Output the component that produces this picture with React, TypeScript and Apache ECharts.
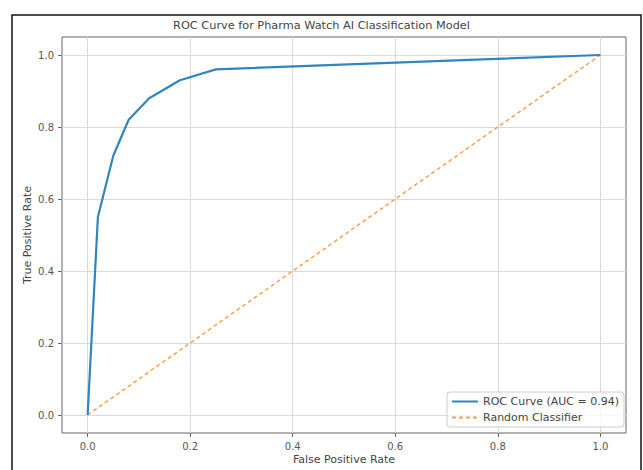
import React, { useEffect, useRef } from "react";
import * as echarts from "echarts";

const fpr = [0, 0.02, 0.05, 0.08, 0.12, 0.18, 0.25, 1.0];
const tpr = [0, 0.55, 0.72, 0.82, 0.88, 0.93, 0.96, 1.0];
const randomX = [0, 1];
const randomY = [0, 1];
const tickValues = [0, 0.2, 0.4, 0.6, 0.8, 1.0];
const titleText = "ROC Curve for Pharma Watch AI Classification Model";
const rocName = "ROC Curve (AUC = 0.94)";
const randName = "Random Classifier";

const FONT = "'DejaVu Sans', sans-serif";
const BLUE = "#3284c0";
const ORANGE = "#f8a04c";

export default function App() {
  const ref = useRef<HTMLDivElement>(null);
  useEffect(() => {
    if (!ref.current) return;
    const chart = echarts.init(ref.current, null, { renderer: "svg" });
    const axisCommon = (name: string, gap: number) => ({
      type: "value" as const,
      min: -0.05,
      max: 1.05,
      name,
      nameLocation: "middle" as const,
      nameGap: gap,
      nameMoveOverlap: false,
      nameTextStyle: { fontSize: 11, color: "#444", fontFamily: FONT },
      axisLine: { show: false, onZero: false },
      axisTick: {
        show: true,
        customValues: tickValues,
        length: 4,
        lineStyle: { color: "#666" },
      },
      axisLabel: {
        customValues: tickValues,
        formatter: (v: number) => v.toFixed(1),
        fontSize: 10,
        color: "#555",
        fontFamily: FONT,
        margin: 8,
      },
      splitLine: { show: true, lineStyle: { color: "#d9d9d9", width: 1 } },
    });
    chart.setOption({
      animation: false,
      backgroundColor: "#fff",
      title: {
        text: titleText,
        left: "center",
        top: 15,
        textStyle: { fontSize: 11.3, fontWeight: "normal", color: "#444", fontFamily: FONT },
      },
      grid: {
        left: 62,
        top: 37,
        width: 564,
        height: 398,
        show: true,
        borderColor: "#666",
        borderWidth: 1,
        backgroundColor: "transparent",
      },
      xAxis: axisCommon("False Positive Rate", 21),
      yAxis: axisCommon("True Positive Rate", 29),
      legend: {
        orient: "vertical",
        left: 447,
        top: 392,
        itemWidth: 26,
        itemHeight: 8,
        itemGap: 5,
        padding: [4, 5, 4, 4],
        borderColor: "#ccc",
        borderWidth: 1,
        borderRadius: 3,
        backgroundColor: "rgba(255,255,255,0.8)",
        itemStyle: { opacity: 0 },
        textStyle: { fontSize: 11, color: "#444", fontFamily: FONT },
        data: [rocName, randName],
      },
      graphic: [
        {
          type: "rect",
          shape: { x: 12, y: 15, width: 629, height: 470 },
          style: { fill: "none", stroke: "#111", lineWidth: 1.5 },
          silent: true,
        },
      ],
      series: [
        {
          name: rocName,
          type: "line",
          data: fpr.map((x, i) => [x, tpr[i]]),
          symbol: "none",
          lineStyle: { color: BLUE, width: 2.2 },
          itemStyle: { color: BLUE },
          z: 3,
        },
        {
          name: randName,
          type: "line",
          data: randomX.map((x, i) => [x, randomY[i]]),
          symbol: "none",
          lineStyle: { color: ORANGE, width: 1.5, type: [4, 3] },
          itemStyle: { color: ORANGE },
          z: 2,
        },
      ],
    });
    return () => chart.dispose();
  }, []);
  return (
    <div
      ref={ref}
      style={{ position: "fixed", left: 0, top: 0, width: 643, height: 470, background: "#fff" }}
    />
  );
}
